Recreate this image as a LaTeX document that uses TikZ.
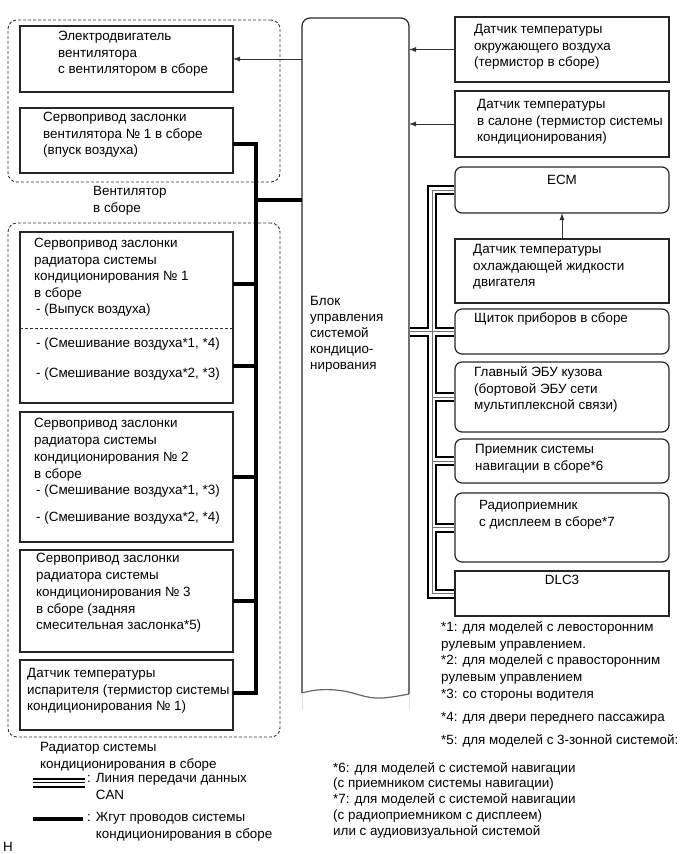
\documentclass[tikz,border=0pt]{standalone}
\usepackage{fontspec}
\setmainfont{Liberation Sans}
\usetikzlibrary{calc,arrows.meta}
\newcommand\fs{\fontsize{13.4pt}{16.5pt}\selectfont}
\newcommand\bx[6]{\node[#6, minimum width={(#4-#2)*1pt}, minimum height={(#5-#3)*1pt}] (#1) at ({(#2+#4)/2},{(#3+#5)/2}) {};}
\newcommand\canpaths[1]{%
 \draw[#1] (ecm.west) -- (ecm.west -| tr) -- (dlc.west -| tr) -- (dlc.west);
 \draw[#1] (shk.west -| blk.east) -- (shk.west);
 \draw[#1] (gl.west -| tr) -- (gl.west);
 \draw[#1] (nav.west -| tr) -- (nav.west);
 \draw[#1] (radio.west -| tr) -- (radio.west);}
\begin{document}
\begin{tikzpicture}[x=1pt,y=-1pt,
  box/.style={draw=black!85, line width=1.2pt, inner sep=0pt, outer sep=0pt},
  rbox/.style={box, rounded corners=7pt},
  grp/.style={draw=black!80, line width=0.9pt, dash pattern=on 3pt off 2pt, rounded corners=9pt, inner sep=0pt, outer sep=0pt},
  txt/.style={anchor=north west, inner sep=0pt, align=left, font=\fs},
  arr/.style={draw=black!80, line width=0.8pt, -{Latex[length=7pt,width=5pt]}},
  wire/.style={line width=3.5pt, black},
  canbase/.style={shorten <=0.6pt, shorten >=0.6pt}]
\useasboundingbox (0,0) rectangle (691,854);
% groups
\bx{grpA}{8}{20}{280}{182}{grp}
\bx{grpB}{8}{223}{280}{737}{grp}
% left boxes
\bx{motor}{20}{26}{233}{92}{box}
\bx{fs}{20}{108}{233}{173}{box}
\bx{sA}{20}{232}{233}{403}{box}
\bx{sB}{20}{412}{233}{542}{box}
\bx{sC}{20}{550}{233}{652}{box}
\bx{ev}{20}{660}{233}{730}{box}
% right boxes
\bx{amb}{455}{17}{669}{82}{box}
\bx{cab}{455}{91}{669}{157}{box}
\bx{ecm}{455}{167}{669}{213}{rbox}
\bx{cool}{455}{239}{669}{303}{box}
\bx{shk}{455}{309}{669}{354}{rbox}
\bx{gl}{455}{362}{669}{432}{rbox}
\bx{nav}{455}{439}{669}{483}{rbox}
\bx{radio}{455}{493}{669}{562}{rbox}
\bx{dlc}{455}{571}{669}{616}{box}
% central block
\node[inner sep=0pt, outer sep=0pt, minimum width=107pt, minimum height=675pt] (blk) at (355.5,355.5) {};
\draw[black!85, line width=1.2pt, rounded corners=8pt] (blk.south west) -- (blk.north west) -- (blk.north east) -- ($(blk.south east)+(0,1)$);
\draw[black!60, line width=1.2pt] (blk.south west) .. controls (315,689) and (328,689) .. (340,690.5) .. controls (355,692) and (365,699) .. (382,698) .. controls (395,697) and (403,695) .. ($(blk.south east)+(0,1)$);
\draw[black!12, line width=0.8pt] (blk.south west) -- ++(0,17) ($(blk.south east)+(0,1)$) -- ++(0,15);
% separator in sA
\draw[black!80, line width=0.9pt, dash pattern=on 3pt off 2pt] ($(sA.north west)+(0,96)$) -- ($(sA.north east)+(0,96)$);
% arrows
\draw[arr] (motor.east -| blk.west) -- (motor.east);
\draw[arr] (amb.west) -- (amb.west -| blk.east);
\draw[arr] (cab.west) -- (cab.west -| blk.east);
\draw[arr] (cool.north) -- (ecm.south);
% wire harness
\coordinate (w0) at (256,144);
\coordinate (w1) at (256,284);
\coordinate (w2) at (256,366);
\coordinate (w3) at (256,477);
\coordinate (w4) at (256,601);
\coordinate (w5) at (256,693);
\coordinate (wb) at (256,200);
\draw[wire] (w0 -| fs.east) -- (w0) -- (w5) -- (w5 -| ev.east);
\draw[wire] (wb) -- (wb -| blk.west);
\draw[wire] (w1) -- (w1 -| sA.east);
\draw[wire] (w2) -- (w2 -| sA.east);
\draw[wire] (w3) -- (w3 -| sB.east);
\draw[wire] (w4) -- (w4 -| sC.east);
% CAN bus
\coordinate (tr) at (432,0);
\canpaths{canbase, line width=10pt, black}
\canpaths{canbase, line width=6pt, white}
\canpaths{canbase, line width=0.8pt, black!55}
% texts left
\node[txt] (tmotor) at (58,29) {\strut Электродвигатель\\вентилятора\\с вентилятором в сборе};
\node[txt] (tfs) at (43,110) {\strut Сервопривод заслонки\\вентилятора № 1 в сборе\\(впуск воздуха)};
\node[txt] (tgrpA) at (93,184) {\strut Вентилятор\\в сборе};
\node[txt] (tsA) at (34,236) {\strut Сервопривод заслонки\\радиатора системы\\кондиционирования № 1\\в сборе\\\hspace*{2pt}- (Выпуск воздуха)};
\node[txt] (tsA2) at (36,336) {\strut - (Смешивание воздуха*1, *4)};
\node[txt] (tsA3) at (36,366) {\strut - (Смешивание воздуха*2, *3)};
\node[txt, font=\fontsize{13.4pt}{16.75pt}\selectfont] (tsB) at (34,416) {\strut Сервопривод заслонки\\радиатора системы\\кондиционирования № 2\\в сборе\\\hspace*{2pt}- (Смешивание воздуха*1, *3)};
\node[txt] (tsB2) at (36,510) {\strut - (Смешивание воздуха*2, *4)};
\node[txt, font=\fontsize{13.4pt}{16.75pt}\selectfont] (tsC) at (36,551) {\strut Сервопривод заслонки\\радиатора системы\\кондиционирования № 3\\в сборе (задняя\\смесительная заслонка*5)};
\node[txt] (tev) at (27,666) {\strut Датчик температуры\\испарителя (термистор системы\\кондиционирования № 1)};
\node[txt] (tgrpB) at (40,740) {\strut Радиатор системы\\кондиционирования в сборе};
% central text
\node[txt, font=\fontsize{13.4pt}{16pt}\selectfont] (tblk) at (310,294) {\strut Блок\\управления\\системой\\кондицио-\\нирования};
% texts right
\node[txt] (tamb) at (474,22) {\strut Датчик температуры\\окружающего воздуха\\(термистор в сборе)};
\node[txt] (tcab) at (477,97) {\strut Датчик температуры\\в салоне (термистор системы\\кондиционирования)};
\node[font=\fs, inner sep=0pt] (tecm) at (562,180) {ECM};
\node[txt] (tcool) at (473,242) {\strut Датчик температуры\\охлаждающей жидкости\\двигателя};
\node[txt] (tshk) at (474,311) {\strut Щиток приборов в сборе};
\node[txt] (tgl) at (474,365) {\strut Главный ЭБУ кузова\\(бортовой ЭБУ сети\\мультиплексной связи)};
\node[txt] (tnav) at (475,442) {\strut Приемник системы\\навигации в сборе*6};
\node[txt] (tradio) at (479,498) {\strut Радиоприемник\\с дисплеем в сборе*7};
\node[font=\fs, inner sep=0pt] (tdlc) at (562,580) {DLC3};
% footnotes
\node[txt] (f1) at (441,620) {\strut *1: для моделей с левосторонним\\рулевым управлением.};
\node[txt] (f2) at (441,653) {\strut *2: для моделей с правосторонним\\рулевым управлением};
\node[txt] (f3) at (441,687) {\strut *3: со стороны водителя};
\node[txt] (f4) at (441,710) {\strut *4: для двери переднего пассажира};
\node[txt] (f5) at (441,733) {\strut *5: для моделей с 3-зонной системой:};
\node[txt, font=\fontsize{13.4pt}{15.7pt}\selectfont] (f6) at (333,761) {\strut *6: для моделей с системой навигации\\(с приемником системы навигации)\\*7: для моделей с системой навигации\\(с радиоприемником с дисплеем)\\или с аудиовизуальной системой};
% legend
\coordinate (lc1) at (33,782.5);
\coordinate (lc2) at (85,782.5);
\draw[line width=10pt, black] (lc1) -- (lc2);
\draw[line width=6pt, white] (lc1) -- (lc2);
\draw[line width=0.9pt, black] (lc1) -- (lc2);
\coordinate (lw1) at (33,819);
\coordinate (lw2) at (83,819);
\draw[wire] (lw1) -- (lw2);
\node[txt] (tl1) at (87,771) {\strut : Линия передачи данных\\\phantom{: }CAN};
\node[txt] (tl2) at (87,810) {\strut : Жгут проводов системы\\\phantom{: }кондиционирования в сборе};
\node[txt] (tH) at (3,840) {\strut H};
\end{tikzpicture}
\end{document}
